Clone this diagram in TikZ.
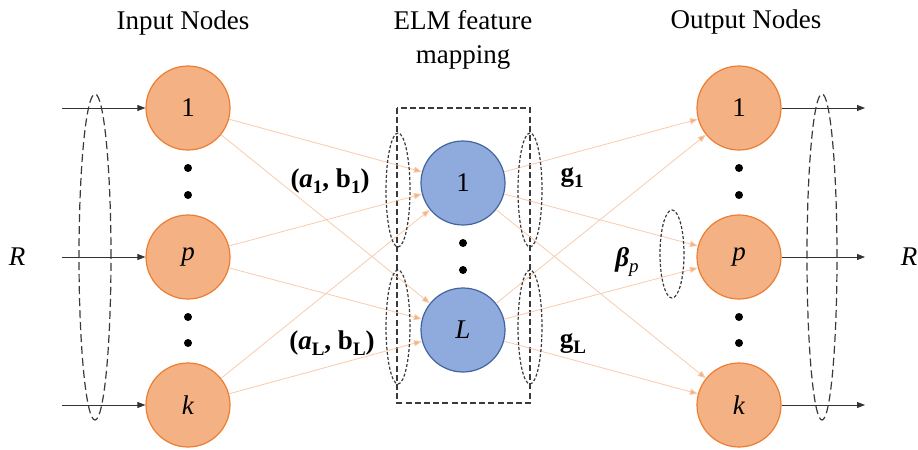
\documentclass[tikz,border=0pt]{standalone}
\usepackage{fontspec}
\setmainfont{Liberation Serif}
\usepackage{tikz}
\usetikzlibrary{arrows.meta,positioning,shapes.geometric}

\definecolor{nodeorange}{HTML}{F4B183}
\definecolor{edgeorange}{HTML}{ED7D31}
\definecolor{linkorange}{HTML}{F8CBAD}
\definecolor{nodeblue}{HTML}{8FAADC}
\definecolor{edgeblue}{HTML}{41649E}
\definecolor{grpgray}{HTML}{3A3A3A}
\newcommand{\dn}[1]{\raisebox{-0.45ex}{\fontsize{9.5}{10}\selectfont #1}}

\begin{document}
\begin{tikzpicture}[
  x=0.5pt, y=-0.5pt,
  font=\fontsize{13.5}{16}\selectfont,
  innode/.style={circle, draw=edgeorange, fill=nodeorange, line width=0.6pt,
                 minimum size=42pt, inner sep=0pt},
  hidnode/.style={circle, draw=edgeblue, fill=nodeblue, line width=0.6pt,
                  minimum size=42pt, inner sep=0pt},
  grp/.style={ellipse, draw=grpgray, dash pattern=on 4pt off 2pt, line width=0.6pt,
              inner sep=0pt},
  smallgrp/.style={ellipse, draw=grpgray, dash pattern=on 1.5pt off 1pt, line width=0.6pt,
                   inner sep=0pt},
  lbl/.style={font=\fontsize{13.5}{16}\selectfont, align=center},
  arr/.style={-{Triangle[length=4pt, width=3pt]}, line width=0.4pt, black!80},
  link/.style={-{Triangle[length=4pt, width=3pt, fill=nodeorange]}, line width=0.4pt,
               draw=linkorange}
]
\useasboundingbox (0,0) rectangle (918,450);

\node[lbl] (ttlin) at (183,23) {Input Nodes};
\node[lbl, align=center] (ttlelm) at (463,40) {ELM feature\\[1pt]mapping};
\node[lbl] (ttlout) at (746,22) {Output Nodes};

\draw[dashed, dash pattern=on 3pt off 1.6pt, grpgray, line width=0.6pt]
  (397,108) rectangle (530,403);

\node[innode] (in1) at (188,108) {1};
\node[innode] (inp) at (188,257) {\textit{p}};
\node[innode] (ink) at (188,405) {\textit{k}};

\node[hidnode] (hid1) at (463,183) {1};
\node[hidnode] (hidL) at (463,330) {\textit{L}};

\node[innode] (out1) at (739,108) {1};
\node[innode] (outp) at (739,257) {\textit{p}};
\node[innode] (outk) at (739,405) {\textit{k}};

\foreach \y in {168,195,317,343} {
  \fill (188,\y) circle (2pt);
  \fill (739,\y) circle (2pt);
}
\fill (463,243) circle (2pt);
\fill (463,270) circle (2pt);

\foreach \i in {in1,inp,ink}
  \foreach \j in {hid1,hidL}
    \draw[link] (\i) -- (\j);
\foreach \i in {hid1,hidL}
  \foreach \j in {out1,outp,outk}
    \draw[link] (\i) -- (\j);

\coordinate (src1) at (62,108);
\coordinate (srcp) at (62,257);
\coordinate (srck) at (62,405);
\coordinate (dst1) at (865,108);
\coordinate (dstp) at (865,257);
\coordinate (dstk) at (865,405);
\draw[arr] (src1) -- (in1);
\draw[arr] (srcp) -- (inp);
\draw[arr] (srck) -- (ink);
\draw[arr] (out1) -- (dst1);
\draw[arr] (outp) -- (dstp);
\draw[arr] (outk) -- (dstk);

\node[grp, minimum width=16pt, minimum height=163pt] (ingrp) at (95,257) {};
\node[grp, minimum width=15pt, minimum height=163pt] (outgrp) at (822,257) {};
\node[smallgrp, minimum width=12pt, minimum height=57pt] (ab1) at (398,190) {};
\node[smallgrp, minimum width=12pt, minimum height=57pt] (abL) at (398,327) {};
\node[smallgrp, minimum width=12pt, minimum height=57pt] (g1grp) at (530,190) {};
\node[smallgrp, minimum width=12pt, minimum height=57pt] (gLgrp) at (530,327) {};
\node[smallgrp, minimum width=12pt, minimum height=44pt] (betagrp) at (672,254) {};

\node[lbl] (rin) at (17,257) {\textit{R}};
\node[lbl] (rout) at (909,257) {\textit{R}};
\node[lbl] (ablbl1) at (330,181) {\textbf{(\textit{a}\dn{1}, b\dn{1})}};
\node[lbl] (ablblL) at (332,343) {\textbf{(\textit{a}\dn{L}, b\dn{L})}};
\node[lbl] (glbl1) at (572,178) {\textbf{g\dn{1}}};
\node[lbl] (glblL) at (573,344) {\textbf{g\dn{L}}};
\node[lbl] (betalbl) at (627,262) {\textbf{\textit{β}}\dn{\textit{p}}};
\end{tikzpicture}
\end{document}
